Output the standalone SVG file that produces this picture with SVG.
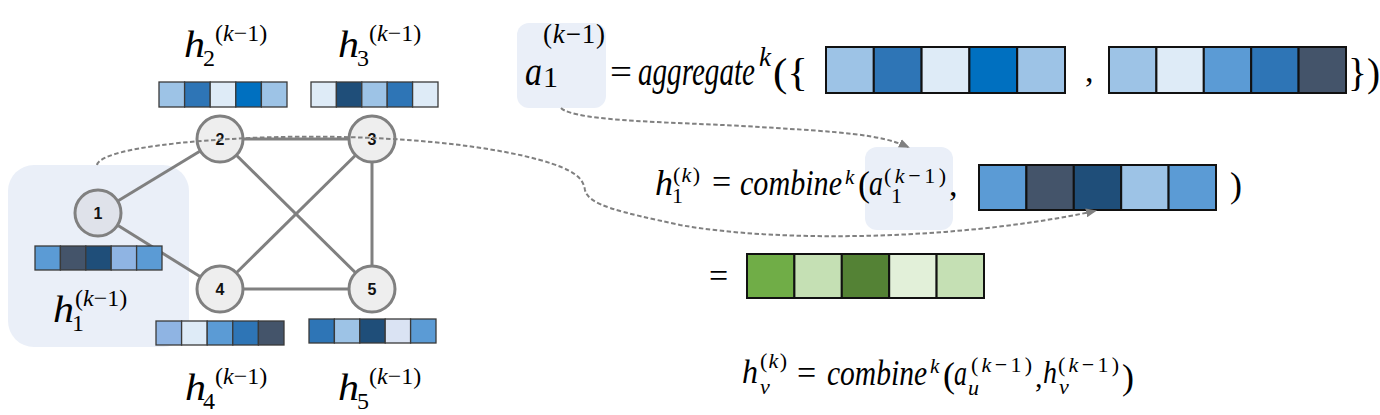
<svg xmlns="http://www.w3.org/2000/svg" width="1380" height="415" viewBox="0 0 1380 415">
<style>
.hl{fill:#eaeff8}
.edge{stroke:#808080;stroke-width:3;fill:none}
.nd{fill:#eeeeee;stroke:#808080;stroke-width:3}
.nl{font-family:"Liberation Sans",Arial,sans-serif;font-weight:bold;font-size:16px;fill:#111;text-anchor:middle}
.sc{stroke:#3a3a3a;stroke-width:1.3}
.bc{stroke:#111;stroke-width:2}
.mi{font-family:"Liberation Serif","Times New Roman",serif;font-style:italic;fill:#000}
.mr{font-family:"Liberation Serif","Times New Roman",serif;fill:#000}
.dash{stroke:#808080;stroke-width:2;fill:none;stroke-dasharray:4.5 2.5}
.c1{fill:#deebf7}.c2{fill:#9dc3e6}.c3{fill:#5b9bd5}.c4{fill:#2e75b6}.c5{fill:#1f4e79}.c6{fill:#0070c0}.c7{fill:#44546a}.c8{fill:#dae3f3}.c9{fill:#8fb4e3}
.g1{fill:#70ad47}.g2{fill:#c5e0b4}.g3{fill:#548235}.g4{fill:#e2f0d9}
</style>
<defs>
<marker id="ah" markerWidth="11" markerHeight="9" refX="9" refY="4.5" orient="auto" markerUnits="userSpaceOnUse">
<path d="M0,0 L11,4.5 L0,9 z" fill="#808080"/>
</marker>
</defs>
<rect width="1380" height="415" fill="#ffffff"/>

<!-- highlight boxes -->
<g id="highlights">
<rect class="hl" x="8" y="165" width="181" height="182" rx="26"/>
<rect class="hl" x="517" y="23" width="89" height="85" rx="12"/>
<rect class="hl" x="865" y="147" width="88" height="83" rx="12"/>
</g>

<!-- graph edges -->
<g id="edges">
<line class="edge" x1="98" y1="213" x2="220" y2="139"/>
<line class="edge" x1="98" y1="213" x2="220" y2="289"/>
<line class="edge" x1="220" y1="139" x2="372" y2="139"/>
<line class="edge" x1="220" y1="139" x2="372" y2="289"/>
<line class="edge" x1="372" y1="139" x2="220" y2="289"/>
<line class="edge" x1="372" y1="139" x2="372" y2="289"/>
<line class="edge" x1="220" y1="289" x2="372" y2="289"/>
</g>

<!-- node 1 -->
<g id="node1">
<circle cx="98" cy="213" r="23" fill="#dfe2ea" stroke="#808080" stroke-width="3"/>
<text class="nl" x="98" y="219">1</text>
<g class="sc">
<rect class="c3" x="35" y="246" width="25.4" height="24"/>
<rect class="c7" x="60.4" y="246" width="25.4" height="24"/>
<rect class="c5" x="85.8" y="246" width="25.4" height="24"/>
<rect class="c9" x="111.2" y="246" width="25.4" height="24"/>
<rect class="c3" x="136.6" y="246" width="25.4" height="24"/>
</g>
<text class="mi" x="53" y="322" font-size="37" textLength="21" lengthAdjust="spacingAndGlyphs">h</text>
<text class="mr" x="72" y="331" font-size="24">1</text>
<text class="mr" x="75" y="306" font-size="24">(<tspan font-style="italic">k</tspan>−1)</text>
</g>

<!-- node 2 -->
<g id="node2">
<circle class="nd" cx="220" cy="139" r="23"/>
<text class="nl" x="220" y="145">2</text>
<g class="sc">
<rect class="c2" x="159" y="82" width="25.6" height="25"/>
<rect class="c4" x="184.6" y="82" width="25.6" height="25"/>
<rect class="c1" x="210.2" y="82" width="25.6" height="25"/>
<rect class="c6" x="235.8" y="82" width="25.6" height="25"/>
<rect class="c2" x="261.4" y="82" width="25.6" height="25"/>
</g>
<text class="mi" x="184" y="57" font-size="37" textLength="21" lengthAdjust="spacingAndGlyphs">h</text>
<text class="mr" x="203" y="66" font-size="24">2</text>
<text class="mr" x="215" y="41" font-size="24">(<tspan font-style="italic">k</tspan>−1)</text>
</g>

<!-- node 3 -->
<g id="node3">
<circle class="nd" cx="372" cy="139" r="23"/>
<text class="nl" x="372" y="145">3</text>
<g class="sc">
<rect class="c1" x="311" y="82" width="25.4" height="25"/>
<rect class="c5" x="336.4" y="82" width="25.4" height="25"/>
<rect class="c2" x="361.8" y="82" width="25.4" height="25"/>
<rect class="c4" x="387.2" y="82" width="25.4" height="25"/>
<rect class="c1" x="412.6" y="82" width="25.4" height="25"/>
</g>
<text class="mi" x="338" y="57" font-size="37" textLength="21" lengthAdjust="spacingAndGlyphs">h</text>
<text class="mr" x="357" y="66" font-size="24">3</text>
<text class="mr" x="369" y="41" font-size="24">(<tspan font-style="italic">k</tspan>−1)</text>
</g>

<!-- node 4 -->
<g id="node4">
<circle class="nd" cx="220" cy="289" r="23"/>
<text class="nl" x="220" y="295">4</text>
<g class="sc">
<rect class="c9" x="156" y="321" width="25.6" height="24"/>
<rect class="c1" x="181.6" y="321" width="25.6" height="24"/>
<rect class="c3" x="207.2" y="321" width="25.6" height="24"/>
<rect class="c4" x="232.8" y="321" width="25.6" height="24"/>
<rect class="c7" x="258.4" y="321" width="25.6" height="24"/>
</g>
<text class="mi" x="185" y="400" font-size="37" textLength="21" lengthAdjust="spacingAndGlyphs">h</text>
<text class="mr" x="203" y="409" font-size="24">4</text>
<text class="mr" x="215" y="384" font-size="24">(<tspan font-style="italic">k</tspan>−1)</text>
</g>

<!-- node 5 -->
<g id="node5">
<circle class="nd" cx="372" cy="289" r="23"/>
<text class="nl" x="372" y="295">5</text>
<g class="sc">
<rect class="c4" x="309" y="319" width="25.4" height="24"/>
<rect class="c2" x="334.4" y="319" width="25.4" height="24"/>
<rect class="c5" x="359.8" y="319" width="25.4" height="24"/>
<rect class="c8" x="385.2" y="319" width="25.4" height="24"/>
<rect class="c3" x="410.6" y="319" width="25.4" height="24"/>
</g>
<text class="mi" x="338" y="400" font-size="37" textLength="21" lengthAdjust="spacingAndGlyphs">h</text>
<text class="mr" x="357" y="409" font-size="24">5</text>
<text class="mr" x="369" y="384" font-size="24">(<tspan font-style="italic">k</tspan>−1)</text>
</g>

<!-- aggregate equation -->
<g id="eq-aggregate">
<text class="mi" x="525" y="85" font-size="42" textLength="17" lengthAdjust="spacingAndGlyphs">a</text>
<text class="mr" x="543" y="87" font-size="30">1</text>
<text class="mr" x="543" y="43" font-size="27" textLength="62">(<tspan font-style="italic">k</tspan>−1)</text>
<text class="mr" x="610" y="84" font-size="36" textLength="22" lengthAdjust="spacingAndGlyphs">=</text>
<text class="mi" x="638" y="85" font-size="42" textLength="117" lengthAdjust="spacingAndGlyphs">aggregate</text>
<text class="mi" x="759" y="66" font-size="27">k</text>
<text class="mr" x="773" y="86" font-size="40" textLength="35" lengthAdjust="spacingAndGlyphs">({</text>
<g class="bc">
<rect class="c2" x="826" y="47" width="47.8" height="46"/>
<rect class="c4" x="873.8" y="47" width="47.8" height="46"/>
<rect class="c1" x="921.6" y="47" width="47.8" height="46"/>
<rect class="c6" x="969.4" y="47" width="47.8" height="46"/>
<rect class="c2" x="1017.2" y="47" width="47.8" height="46"/>
</g>
<text class="mr" x="1085" y="82" font-size="34">,</text>
<g class="bc">
<rect class="c2" x="1109" y="47" width="47.4" height="46"/>
<rect class="c1" x="1156.4" y="47" width="47.4" height="46"/>
<rect class="c3" x="1203.8" y="47" width="47.4" height="46"/>
<rect class="c4" x="1251.2" y="47" width="47.4" height="46"/>
<rect class="c7" x="1298.6" y="47" width="47.4" height="46"/>
</g>
<text class="mr" x="1348" y="86" font-size="40" textLength="32" lengthAdjust="spacingAndGlyphs">})</text>
</g>

<!-- combine equation -->
<g id="eq-combine">
<text class="mi" x="655" y="195" font-size="36">h</text>
<text class="mr" x="672" y="203" font-size="22">1</text>
<text class="mr" x="673" y="182" font-size="22" textLength="27">(<tspan font-style="italic">k</tspan>)</text>
<text class="mr" x="712" y="193" font-size="34">=</text>
<text class="mi" x="740" y="195" font-size="36" textLength="102" lengthAdjust="spacingAndGlyphs">combine</text>
<text class="mi" x="845" y="184" font-size="21">k</text>
<text class="mr" x="858" y="196" font-size="36">(</text>
<text class="mi" x="869" y="195" font-size="36" textLength="14" lengthAdjust="spacingAndGlyphs">a</text>
<text class="mr" x="891" y="203" font-size="22">1</text>
<text class="mr" x="884" y="183" font-size="22" textLength="62">(<tspan font-style="italic">k</tspan>−1)</text>
<text class="mr" x="949" y="196" font-size="34">,</text>
<g class="bc">
<rect class="c3" x="979" y="165" width="47.4" height="45"/>
<rect class="c7" x="1026.4" y="165" width="47.4" height="45"/>
<rect class="c5" x="1073.8" y="165" width="47.4" height="45"/>
<rect class="c2" x="1121.2" y="165" width="47.4" height="45"/>
<rect class="c3" x="1168.6" y="165" width="47.4" height="45"/>
</g>
<text class="mr" x="1230" y="197" font-size="36">)</text>
</g>

<!-- result -->
<g id="eq-result">
<text class="mr" x="709" y="287" font-size="34">=</text>
<g class="bc">
<rect class="g1" x="747" y="254" width="47.4" height="44"/>
<rect class="g2" x="794.4" y="254" width="47.4" height="44"/>
<rect class="g3" x="841.8" y="254" width="47.4" height="44"/>
<rect class="g4" x="889.2" y="254" width="47.4" height="44"/>
<rect class="g2" x="936.6" y="254" width="47.4" height="44"/>
</g>
</g>

<!-- general formula -->
<g id="eq-general">
<text class="mi" x="742" y="383" font-size="34" textLength="16" lengthAdjust="spacingAndGlyphs">h</text>
<text class="mi" x="760" y="394" font-size="22">v</text>
<text class="mr" x="760" y="368" font-size="22" textLength="27">(<tspan font-style="italic">k</tspan>)</text>
<text class="mr" x="797" y="384" font-size="34">=</text>
<text class="mi" x="827" y="385" font-size="36" textLength="100" lengthAdjust="spacingAndGlyphs">combine</text>
<text class="mi" x="930" y="373" font-size="21">k</text>
<text class="mr" x="943" y="387" font-size="36">(</text>
<text class="mi" x="954" y="385" font-size="36" textLength="13" lengthAdjust="spacingAndGlyphs">a</text>
<text class="mi" x="968" y="395" font-size="22">u</text>
<text class="mr" x="971" y="372" font-size="22" textLength="61">(<tspan font-style="italic">k</tspan>−1)</text>
<text class="mr" x="1035" y="387" font-size="30">,</text>
<text class="mi" x="1043" y="383" font-size="32" textLength="14" lengthAdjust="spacingAndGlyphs">h</text>
<text class="mi" x="1059" y="394" font-size="22">v</text>
<text class="mr" x="1058" y="372" font-size="22" textLength="61">(<tspan font-style="italic">k</tspan>−1)</text>
<text class="mr" x="1122" y="389" font-size="36">)</text>
</g>

<!-- dashed flow connectors -->
<g id="connectors">
<path class="dash" marker-end="url(#ah)" d="M561 108 C575 122 680 122 760 127 S880 134 908 147"/>
<path class="dash" marker-end="url(#ah)" d="M97 165 C100 152 160 143 230 139 C330 133 460 138 540 160 C575 170 583 178 585 190 C588 205 620 212 680 225 C780 243 960 240 1095 211"/>
</g>
</svg>
